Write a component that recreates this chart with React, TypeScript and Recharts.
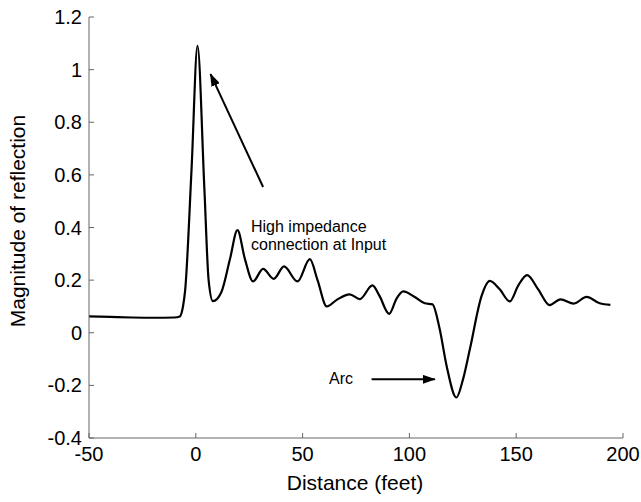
import { LineChart, Line, XAxis, YAxis, ReferenceLine } from 'recharts';

const FONT = '"Liberation Sans", Arial, Helvetica, sans-serif';

// distance along the line (feet)
const distance = [
  -50, -40, -30, -20, -10, -7.5, -6, -5, -2, 0.8, 4, 6, 8, 12, 16, 19.5, 23, 26.8,
  31.5, 36.5, 41.3, 47.6, 53.4, 57, 61.3, 66, 72, 76.8, 82.7, 86, 90.5, 94, 97.1,
  102.5, 107.2, 110.8, 114.2, 117.4, 122, 125, 128.3, 133.8, 137.6, 142.3, 147,
  151, 155.1, 160.3, 165.7, 170.7, 177, 182.9, 189.1, 194.1,
];

// magnitude of reflection
const magnitude = [
  0.062, 0.06, 0.058, 0.057, 0.058, 0.062, 0.1, 0.16, 0.62, 1.09, 0.55, 0.2, 0.12,
  0.155, 0.28, 0.39, 0.28, 0.195, 0.243, 0.205, 0.252, 0.195, 0.28, 0.2, 0.1, 0.125,
  0.146, 0.128, 0.18, 0.14, 0.072, 0.13, 0.157, 0.136, 0.112, 0.108, 0.013, -0.125,
  -0.246, -0.18, -0.063, 0.14, 0.197, 0.165, 0.119, 0.18, 0.219, 0.165, 0.105,
  0.127, 0.111, 0.136, 0.112, 0.106,
];

const xTicks = [-50, 0, 50, 100, 150, 200];
const yTicks = [-0.4, -0.2, 0, 0.2, 0.4, 0.6, 0.8, 1, 1.2];

const data = distance.map((d, i) => ({ d, m: magnitude[i] }));

const axisColor = '#666';
const blank = () => '';

export default function App() {
  return (
    <div style={{ position: 'absolute', left: 0, top: 0, width: 641, height: 502, background: '#fff' }}>
      <LineChart width={641} height={502} data={data} margin={{ top: 17, right: 18, bottom: 0, left: 0 }}>
        <defs>
          <marker id="arrowHead" markerUnits="userSpaceOnUse" markerWidth={13} markerHeight={9} refX={12} refY={4.5} orient="auto">
            <path d="M0,0 L13,4.5 L0,9 z" fill="#000" />
          </marker>
        </defs>

        <XAxis
          dataKey="d"
          type="number"
          domain={[-50, 200]}
          ticks={xTicks}
          interval={0}
          allowDataOverflow
          height={64}
          stroke={axisColor}
          tickSize={-5}
          tickMargin={14}
          tick={{ fill: '#000', fontSize: 20, fontFamily: FONT }}
        />
        <XAxis
          xAxisId="top"
          orientation="top"
          type="number"
          domain={[-50, 200]}
          ticks={xTicks}
          interval={0}
          allowDataOverflow
          height={0}
          stroke={axisColor}
          tickSize={-5}
          tickFormatter={blank}
        />
        <YAxis
          type="number"
          domain={[-0.4, 1.2]}
          ticks={yTicks}
          interval={0}
          allowDataOverflow
          width={89}
          stroke={axisColor}
          tickSize={-5}
          tickMargin={12}
          tick={{ fill: '#000', fontSize: 20, fontFamily: FONT }}
        />
        <YAxis
          yAxisId="r"
          orientation="right"
          type="number"
          domain={[-0.4, 1.2]}
          ticks={yTicks}
          interval={0}
          allowDataOverflow
          width={0}
          stroke={axisColor}
          tickSize={-5}
          tickFormatter={blank}
        />

        <Line
          type="monotone"
          dataKey="m"
          stroke="#000"
          strokeWidth={2.2}
          dot={false}
          isAnimationActive={false}
        />

        <ReferenceLine
          segment={[{ x: 31.5, y: 0.554 }, { x: 6.9, y: 0.983 }]}
          stroke="#000"
          strokeWidth={2}
          markerEnd="url(#arrowHead)"
        />
        <ReferenceLine
          segment={[{ x: 82.3, y: -0.177 }, { x: 111.9, y: -0.177 }]}
          stroke="#000"
          strokeWidth={2}
          markerEnd="url(#arrowHead)"
        />

        <text x={251} y={232} fontSize={16} fontFamily={FONT} fill="#000">High impedance</text>
        <text x={251} y={249.5} fontSize={16} fontFamily={FONT} fill="#000">connection at Input</text>
        <text x={329} y={384} fontSize={16} fontFamily={FONT} fill="#000">Arc</text>

        <text x={355} y={490} textAnchor="middle" fontSize={21} fontFamily={FONT} fill="#000">Distance (feet)</text>
        <text
          x={0}
          y={0}
          transform="translate(25,221) rotate(-90)"
          textAnchor="middle"
          fontSize={21}
          fontFamily={FONT}
          fill="#000"
        >
          Magnitude of reflection
        </text>
      </LineChart>
    </div>
  );
}
